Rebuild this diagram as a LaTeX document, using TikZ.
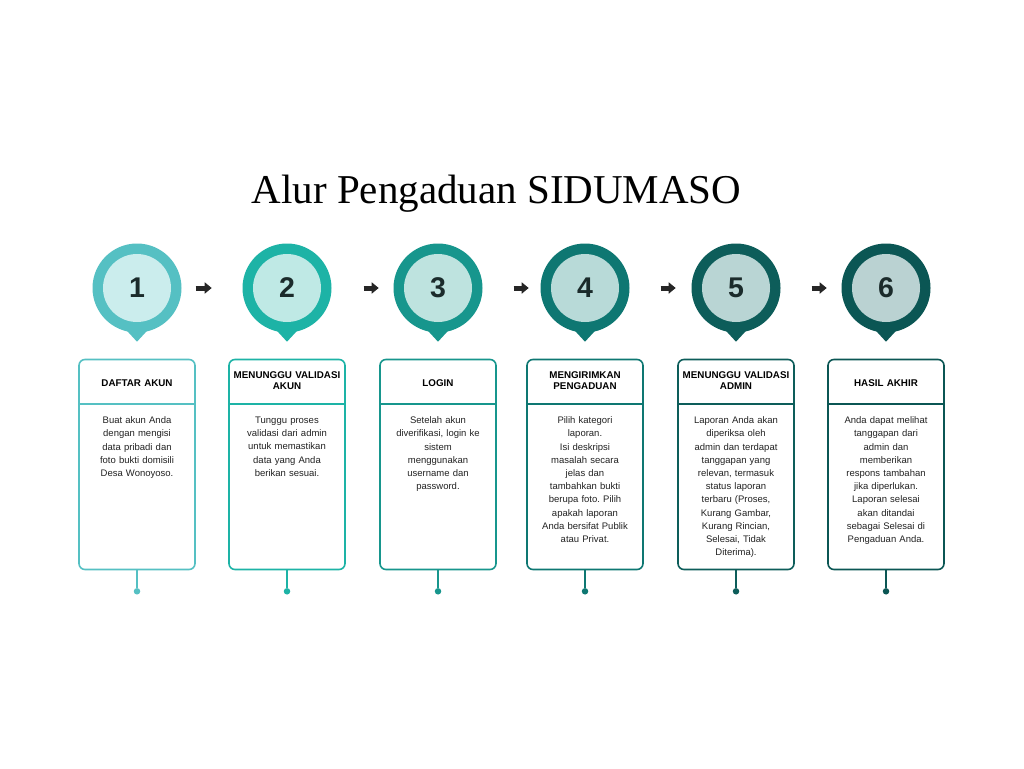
\documentclass[tikz,border=0pt]{standalone}
\usepackage{fontspec}
\setmainfont{Liberation Sans}
\newfontfamily\titlefont{Liberation Serif}
\usetikzlibrary{positioning,arrows.meta}
\frenchspacing

\definecolor{pinA}{HTML}{55C0C3}
\definecolor{pinB}{HTML}{1DB3A6}
\definecolor{pinC}{HTML}{17968D}
\definecolor{pinD}{HTML}{0E7772}
\definecolor{pinE}{HTML}{0D5D5A}
\definecolor{pinF}{HTML}{0B5654}
\definecolor{innA}{HTML}{CBEDED}
\definecolor{innB}{HTML}{BFE9E5}
\definecolor{innC}{HTML}{BEE3DF}
\definecolor{innD}{HTML}{B8DAD8}
\definecolor{innE}{HTML}{B9D5D4}
\definecolor{innF}{HTML}{BAD2D2}
\definecolor{numtext}{HTML}{1B2B2B}
\definecolor{bodytext}{HTML}{222222}

\begin{document}
\begin{tikzpicture}[x=1pt,y=-1pt,node distance=26pt,
  pin/.style={circle,minimum size=89pt,inner sep=0pt},
  num/.style={circle,minimum size=68pt,inner sep=0pt,text=numtext,
    font=\fontsize{28.5}{28.5}\selectfont\bfseries},
  card/.style={draw,line width=1.6pt,rounded corners=6pt,minimum width=116pt,
    minimum height=210pt,inner sep=0pt},
  head/.style={align=center,text width=114pt,inner sep=0pt,text=black,
    font=\fontsize{9.8}{11}\selectfont\bfseries},
  body/.style={align=center,text width=114pt,inner sep=0pt,anchor=north,text=bodytext,
    font=\fontsize{9.5}{13.2}\selectfont},
  rule/.style={line width=1.8pt},
  dot/.style={circle,minimum size=6.5pt,inner sep=0pt},
  next/.style={-{Triangle[length=7pt,width=11pt]},line width=5pt,black!85}]

\fill[white] (0,0) rectangle (1024,768);
\useasboundingbox (0,0) rectangle (1024,768);

\node[anchor=base,font=\titlefont\fontsize{41}{41}\selectfont] (title) at (496.5,203)
  {Alur Pengaduan SIDUMASO};

% step 1
\node[pin,fill=pinA] (p1) at (137,288) {};
\fill[pinA] ([shift={(-12,-4)}]p1.south) -- ([shift={(0,9)}]p1.south)
  -- ([shift={(12,-4)}]p1.south) -- cycle;
\node[num,fill=innA] (n1) at (p1) {1};
\node[card,draw=pinA,below=26pt of p1.south] (c1) {};
\node[head] (h1) at ([yshift=-24pt]c1.north) {DAFTAR AKUN};
\draw[rule,draw=pinA] ([yshift=-45pt]c1.north west) -- ([yshift=-45pt]c1.north east);
\node[body] (b1) at ([yshift=-58pt]c1.north) {Buat akun Anda\\ dengan mengisi\\
  data pribadi dan\\ foto bukti domisili\\ Desa Wonoyoso.};
\node[dot,fill=pinA] (d1) at ([yshift=-21pt]c1.south) {};
\draw[rule,draw=pinA] (c1.south) -- (d1);

% step 2
\node[pin,fill=pinB] (p2) at (287,288) {};
\fill[pinB] ([shift={(-12,-4)}]p2.south) -- ([shift={(0,9)}]p2.south)
  -- ([shift={(12,-4)}]p2.south) -- cycle;
\node[num,fill=innB] (n2) at (p2) {2};
\node[card,draw=pinB,below=26pt of p2.south] (c2) {};
\node[head] (h2) at ([yshift=-22pt]c2.north) {MENUNGGU VALIDASI\\ AKUN};
\draw[rule,draw=pinB] ([yshift=-45pt]c2.north west) -- ([yshift=-45pt]c2.north east);
\node[body] (b2) at ([yshift=-58pt]c2.north) {Tunggu proses\\ validasi dari admin\\
  untuk memastikan\\ data yang Anda\\ berikan sesuai.};
\node[dot,fill=pinB] (d2) at ([yshift=-21pt]c2.south) {};
\draw[rule,draw=pinB] (c2.south) -- (d2);

% step 3
\node[pin,fill=pinC] (p3) at (438,288) {};
\fill[pinC] ([shift={(-12,-4)}]p3.south) -- ([shift={(0,9)}]p3.south)
  -- ([shift={(12,-4)}]p3.south) -- cycle;
\node[num,fill=innC] (n3) at (p3) {3};
\node[card,draw=pinC,below=26pt of p3.south] (c3) {};
\node[head] (h3) at ([yshift=-24pt]c3.north) {LOGIN};
\draw[rule,draw=pinC] ([yshift=-45pt]c3.north west) -- ([yshift=-45pt]c3.north east);
\node[body] (b3) at ([yshift=-58pt]c3.north) {Setelah akun\\ diverifikasi, login ke\\
  sistem\\ menggunakan\\ username dan\\ password.};
\node[dot,fill=pinC] (d3) at ([yshift=-21pt]c3.south) {};
\draw[rule,draw=pinC] (c3.south) -- (d3);

% step 4
\node[pin,fill=pinD] (p4) at (585,288) {};
\fill[pinD] ([shift={(-12,-4)}]p4.south) -- ([shift={(0,9)}]p4.south)
  -- ([shift={(12,-4)}]p4.south) -- cycle;
\node[num,fill=innD] (n4) at (p4) {4};
\node[card,draw=pinD,below=26pt of p4.south] (c4) {};
\node[head] (h4) at ([yshift=-22pt]c4.north) {MENGIRIMKAN\\ PENGADUAN};
\draw[rule,draw=pinD] ([yshift=-45pt]c4.north west) -- ([yshift=-45pt]c4.north east);
\node[body] (b4) at ([yshift=-58pt]c4.north) {Pilih kategori\\ laporan.\\ Isi deskripsi\\
  masalah secara\\ jelas dan\\ tambahkan bukti\\ berupa foto. Pilih\\ apakah laporan\\
  Anda bersifat Publik\\ atau Privat.};
\node[dot,fill=pinD] (d4) at ([yshift=-21pt]c4.south) {};
\draw[rule,draw=pinD] (c4.south) -- (d4);

% step 5
\node[pin,fill=pinE] (p5) at (736,288) {};
\fill[pinE] ([shift={(-12,-4)}]p5.south) -- ([shift={(0,9)}]p5.south)
  -- ([shift={(12,-4)}]p5.south) -- cycle;
\node[num,fill=innE] (n5) at (p5) {5};
\node[card,draw=pinE,below=26pt of p5.south] (c5) {};
\node[head] (h5) at ([yshift=-22pt]c5.north) {MENUNGGU VALIDASI\\ ADMIN};
\draw[rule,draw=pinE] ([yshift=-45pt]c5.north west) -- ([yshift=-45pt]c5.north east);
\node[body] (b5) at ([yshift=-58pt]c5.north) {Laporan Anda akan\\ diperiksa oleh\\
  admin dan terdapat\\ tanggapan yang\\ relevan, termasuk\\ status laporan\\
  terbaru (Proses,\\ Kurang Gambar,\\ Kurang Rincian,\\ Selesai, Tidak\\ Diterima).};
\node[dot,fill=pinE] (d5) at ([yshift=-21pt]c5.south) {};
\draw[rule,draw=pinE] (c5.south) -- (d5);

% step 6
\node[pin,fill=pinF] (p6) at (886,288) {};
\fill[pinF] ([shift={(-12,-4)}]p6.south) -- ([shift={(0,9)}]p6.south)
  -- ([shift={(12,-4)}]p6.south) -- cycle;
\node[num,fill=innF] (n6) at (p6) {6};
\node[card,draw=pinF,below=26pt of p6.south] (c6) {};
\node[head] (h6) at ([yshift=-24pt]c6.north) {HASIL AKHIR};
\draw[rule,draw=pinF] ([yshift=-45pt]c6.north west) -- ([yshift=-45pt]c6.north east);
\node[body] (b6) at ([yshift=-58pt]c6.north) {Anda dapat melihat\\ tanggapan dari\\
  admin dan\\ memberikan\\ respons tambahan\\ jika diperlukan.\\ Laporan selesai\\
  akan ditandai\\ sebagai Selesai di\\ Pengaduan Anda.};
\node[dot,fill=pinF] (d6) at ([yshift=-21pt]c6.south) {};
\draw[rule,draw=pinF] (c6.south) -- (d6);

% arrows between the pins
\draw[next] ([xshift=14pt]p1.east) -- ([xshift=30pt]p1.east);
\draw[next] ([xshift=32pt]p2.east) -- ([xshift=47pt]p2.east);
\draw[next] ([xshift=31pt]p3.east) -- ([xshift=46pt]p3.east);
\draw[next] ([xshift=31pt]p4.east) -- ([xshift=46pt]p4.east);
\draw[next] ([xshift=31pt]p5.east) -- ([xshift=46pt]p5.east);

\end{tikzpicture}
\end{document}
